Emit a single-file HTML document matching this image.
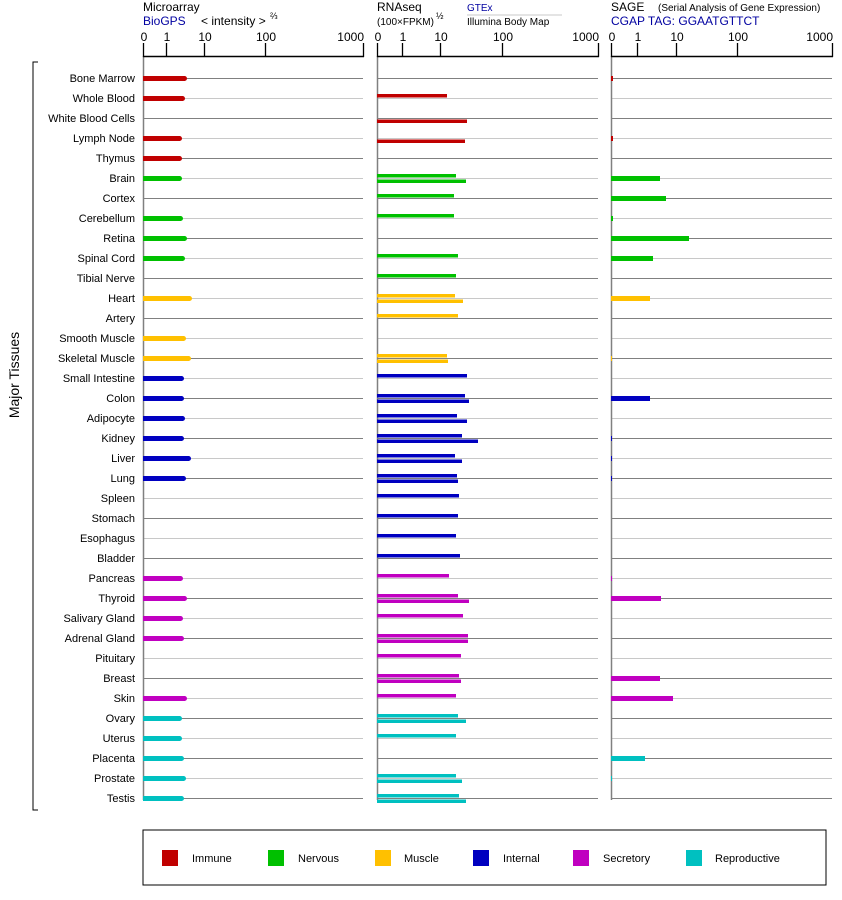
<!DOCTYPE html>
<html><head><meta charset="utf-8"><style>
body{margin:0;background:#fff}
svg{display:block;font-family:"Liberation Sans",sans-serif}
</style></head><body>
<svg id="s" width="842" height="900" xmlns="http://www.w3.org/2000/svg">
<text x="143" y="11" font-size="12">Microarray</text>
<text x="143" y="25" font-size="12" fill="#0000a0">BioGPS</text>
<text x="201" y="25" font-size="12">&lt; intensity &gt;</text>
<text x="270" y="19" font-size="9">⅔</text>
<text x="377" y="11" font-size="12">RNAseq</text>
<text x="377" y="25" font-size="10">(100×FPKM)</text>
<text x="436" y="19" font-size="9">½</text>
<text x="467" y="11" font-size="10" fill="#0000a0">GTEx</text>
<line x1="467" y1="15" x2="562" y2="15" stroke="#c8c8c8"/>
<text x="467" y="25" font-size="10">Illumina Body Map</text>
<text x="611" y="11" font-size="12">SAGE</text>
<text x="658" y="11" font-size="10">(Serial Analysis of Gene Expression)</text>
<text x="611" y="25" font-size="12" fill="#0000a0">CGAP TAG: GGAATGTTCT</text>
<path d="M38 62H33V810H38" fill="none" stroke="#000"/>
<text transform="translate(19,375) rotate(-90)" font-size="14" text-anchor="middle">Major Tissues</text>
<rect x="143" y="830" width="683" height="55" fill="none" stroke="#000"/>
</svg>
<script>
var s=document.getElementById('s'),NS='http://www.w3.org/2000/svg';
function el(t,a,txt){var e=document.createElementNS(NS,t);for(var k in a)e.setAttribute(k,a[k]);if(txt)e.textContent=txt;s.appendChild(e);return e;}
var C={I:'#c00000',N:'#00c000',M:'#ffc000',T:'#0000c0',S:'#c000c0',R:'#00c0c0'};
var rows=[
['Bone Marrow','I',187,0,0,613],['Whole Blood','I',185,447,0,0],['White Blood Cells','I',0,0,467,0],['Lymph Node','I',182,0,465,613],['Thymus','I',182,0,0,0],
['Brain','N',182,456,466,660],['Cortex','N',0,454,0,666],['Cerebellum','N',183,454,0,613],['Retina','N',187,0,0,689],['Spinal Cord','N',185,458,0,653],['Tibial Nerve','N',0,456,0,0],
['Heart','M',192,455,463,650],['Artery','M',0,458,0,0],['Smooth Muscle','M',186,0,0,0],['Skeletal Muscle','M',191,447,448,612],
['Small Intestine','T',184,467,0,0],['Colon','T',184,465,469,650],['Adipocyte','T',185,457,467,0],['Kidney','T',184,462,478,612],['Liver','T',191,455,462,612],['Lung','T',186,457,458,612],['Spleen','T',0,459,0,0],['Stomach','T',0,458,0,0],['Esophagus','T',0,456,0,0],['Bladder','T',0,460,0,0],
['Pancreas','S',183,449,0,612],['Thyroid','S',187,458,469,661],['Salivary Gland','S',183,463,0,0],['Adrenal Gland','S',184,468,468,0],['Pituitary','S',0,461,0,0],['Breast','S',0,459,461,660],['Skin','S',187,456,0,673],
['Ovary','R',182,458,466,0],['Uterus','R',182,456,0,0],['Placenta','R',184,0,0,645],['Prostate','R',186,456,462,612],['Testis','R',184,459,466,0]];
var P=[[143,363,[143,166,204,265,363]],[377,598,[377,402,440,502,598]],[611,832,[611,637,676,737,832]]];
var L=['0','1','10','100','1000'];
P.forEach(function(p){
 rows.forEach(function(r,i){var y=78+20*i;el('line',{x1:p[0],x2:p[1],y1:y+.5,y2:y+.5,stroke:i%2?'#c8c8c8':'#808080'});});
 el('line',{x1:p[0]+.5,x2:p[0]+.5,y1:56,y2:800,stroke:'#808080','stroke-width':1.5});
 el('line',{x1:p[0],x2:p[1]+1,y1:56.5,y2:56.5,stroke:'#000','stroke-width':1.5});
 p[2].forEach(function(x,j){el('line',{x1:x+.5,x2:x+.5,y1:43,y2:57,stroke:'#000','stroke-width':1.3});
  el('text',{x:j==4?x+1:x+1,y:41,'font-size':12,'text-anchor':j==4?'end':'middle'},L[j]);});
});
rows.forEach(function(r,i){var y=78+20*i,c=C[r[1]];
 el('text',{x:135,y:y+4,'font-size':11,'text-anchor':'end'},r[0]);
 if(r[2]){el('rect',{x:143,y:y-2,width:r[2]-145,height:5,fill:c});el('circle',{cx:r[2]-2.5,cy:y+.5,r:2.5,fill:c});}
 if(r[3])el('rect',{x:377,y:y-4,width:r[3]-377,height:3.5,fill:c});
 if(r[4])el('rect',{x:377,y:y+1.5,width:r[4]-377,height:3.5,fill:c});
 if(r[5])el('rect',{x:611,y:y-2,width:r[5]-611,height:5,fill:c});
});
var lg=[['I','Immune',162,192],['N','Nervous',268,298],['M','Muscle',375,404],['T','Internal',473,503],['S','Secretory',573,603],['R','Reproductive',686,715]];
lg.forEach(function(g){el('rect',{x:g[2],y:850,width:16,height:16,fill:C[g[0]]});el('text',{x:g[3],y:862,'font-size':11},g[1]);});
</script>
</body></html>
